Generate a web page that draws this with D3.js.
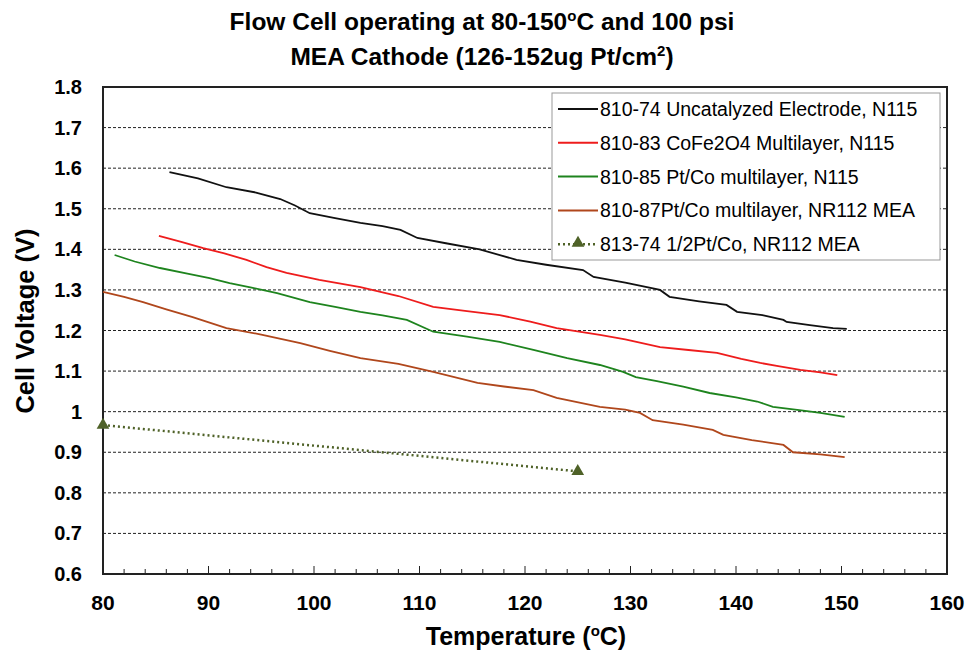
<!DOCTYPE html>
<html>
<head>
<meta charset="utf-8">
<script src="https://cdn.jsdelivr.net/npm/d3@7"></script>
<style>
  body { margin: 0; background: #fff; }
  text { font-family: "Liberation Sans", Arial, sans-serif; }
</style>
</head>
<body>
<div id="chart"></div>
<script>
// series data
var t74 = [86.3, 89, 91.7, 94.5, 96.8, 98.2, 99.6, 102, 104.4, 106.5, 108.2, 109.8, 112.5, 115.7, 119.2, 122, 125.5, 126.5, 129.5, 132.8, 133.7, 136.5, 139.1, 140.1, 142.5, 144.5, 144.8, 147, 149.2, 150.5];
var v74 = [1.59, 1.575, 1.553, 1.54, 1.524, 1.508, 1.489, 1.477, 1.465, 1.457, 1.448, 1.428, 1.415, 1.40, 1.374, 1.362, 1.349, 1.332, 1.318, 1.30, 1.283, 1.272, 1.263, 1.246, 1.238, 1.226, 1.221, 1.213, 1.206, 1.204];

var t83 = [85.3, 87.5, 89.5, 91.5, 93.6, 95.5, 97.4, 100.5, 104.4, 108, 111.3, 114.5, 117.6, 120.5, 123, 127.1, 129.5, 132.8, 135.5, 138.2, 140.5, 142.3, 144, 146.1, 148, 149.6];
var v83 = [1.433, 1.418, 1.403, 1.39, 1.374, 1.356, 1.342, 1.325, 1.307, 1.285, 1.258, 1.248, 1.238, 1.222, 1.206, 1.189, 1.178, 1.159, 1.152, 1.145, 1.13, 1.12, 1.112, 1.103, 1.097, 1.09];

var t85 = [81.1, 83, 85.4, 88, 90.1, 92, 94.2, 96.5, 99.6, 102, 104.4, 106.5, 108.8, 111.3, 114.5, 117.6, 120.8, 124, 127.1, 129.3, 130.5, 132.5, 135, 137.5, 140, 142, 143.5, 146, 148, 150.3];
var v85 = [1.386, 1.37, 1.354, 1.34, 1.329, 1.317, 1.305, 1.292, 1.27, 1.258, 1.246, 1.237, 1.226, 1.197, 1.185, 1.172, 1.152, 1.132, 1.115, 1.098, 1.085, 1.075, 1.062, 1.046, 1.035, 1.025, 1.012, 1.004, 0.997, 0.987];

var t87 = [80, 82, 83.8, 86, 88.5, 91.7, 95, 98.7, 101.5, 104.4, 108, 111.3, 115.5, 118, 120.8, 123, 127.1, 129.5, 130.9, 132.1, 135, 137.8, 138.8, 141.5, 144.5, 145.4, 148, 150.3];
var v87 = [1.295, 1.283, 1.27, 1.252, 1.233, 1.206, 1.19, 1.169, 1.15, 1.132, 1.118, 1.098, 1.071, 1.062, 1.053, 1.034, 1.012, 1.005, 0.997, 0.979, 0.968, 0.955, 0.943, 0.93, 0.918, 0.90, 0.895, 0.888];

var t8174 = [80, 125];
var v8174 = [0.967, 0.853];

var seriesNames = [
  "810-74 Uncatalyzed Electrode, N115",
  "810-83 CoFe2O4 Multilayer, N115",
  "810-85 Pt/Co multilayer, N115",
  "810-87Pt/Co multilayer, NR112 MEA",
  "813-74 1/2Pt/Co, NR112 MEA"
];
var seriesColors = ["#111111", "#ee1c1c", "#1e841e", "#b0471c", "#4f6228"];
var xTicks = [80, 90, 100, 110, 120, 130, 140, 150, 160];
var yTicks = [0.6, 0.7, 0.8, 0.9, 1, 1.1, 1.2, 1.3, 1.4, 1.5, 1.6, 1.7, 1.8];

var width = 967, height = 654;
var plot = {left: 103, right: 947, top: 87, bottom: 574};

var svg = d3.select("#chart").append("svg")
    .attr("width", width)
    .attr("height", height);

var x = d3.scaleLinear().domain([80, 160]).range([plot.left, plot.right]);
var y = d3.scaleLinear().domain([0.6, 1.8]).range([plot.bottom, plot.top]);

// gridlines
svg.append("g").selectAll("line")
    .data(yTicks.slice(1, -1)).enter()
    .append("line")
    .attr("x1", plot.left).attr("x2", plot.right)
    .attr("y1", function(d) { return y(d); })
    .attr("y2", function(d) { return y(d); })
    .attr("stroke", "#222")
    .attr("stroke-width", 1)
    .attr("stroke-dasharray", "3,2");

// minor / major ticks along the bottom, pointing in
var minor = d3.range(82, 160, 2).filter(function(d) { return d % 10 != 0; });
svg.append("g").selectAll("line")
    .data(minor).enter()
    .append("line")
    .attr("x1", function(d) { return x(d); })
    .attr("x2", function(d) { return x(d); })
    .attr("y1", plot.bottom).attr("y2", plot.bottom - 5)
    .attr("stroke", "#222");
svg.append("g").selectAll("line")
    .data(xTicks).enter()
    .append("line")
    .attr("x1", function(d) { return x(d); })
    .attr("x2", function(d) { return x(d); })
    .attr("y1", plot.bottom).attr("y2", plot.bottom - 8)
    .attr("stroke", "#222");

// frame
svg.append("rect")
    .attr("x", plot.left).attr("y", plot.top)
    .attr("width", plot.right - plot.left)
    .attr("height", plot.bottom - plot.top)
    .attr("fill", "none")
    .attr("stroke", "#222")
    .attr("stroke-width", 2);

// tick labels
svg.append("g").selectAll("text")
    .data(yTicks).enter()
    .append("text")
    .attr("x", plot.left - 21)
    .attr("y", function(d) { return y(d) + 7; })
    .attr("text-anchor", "end")
    .style("font-size", "20px")
    .style("font-weight", "bold")
    .text(function(d) { return d == 1 ? "1" : d3.format(".1f")(d); });

svg.append("g").selectAll("text")
    .data(xTicks).enter()
    .append("text")
    .attr("x", function(d) { return x(d); })
    .attr("y", 610)
    .attr("text-anchor", "middle")
    .style("font-size", "21px")
    .style("font-weight", "bold")
    .text(function(d) { return d; });

// lines
var line = d3.line()
    .x(function(d) { return x(d[0]); })
    .y(function(d) { return y(d[1]); });

var series = [
  d3.zip(t74, v74),
  d3.zip(t83, v83),
  d3.zip(t85, v85),
  d3.zip(t87, v87),
  d3.zip(t8174, v8174)
];

series.forEach(function(s, i) {
    svg.append("path")
        .datum(s)
        .attr("d", line)
        .attr("fill", "none")
        .attr("stroke", seriesColors[i])
        .attr("stroke-width", i == 4 ? 2.5 : 1.8)
        .attr("stroke-dasharray", i == 4 ? "2,3" : null);
});

var tri = d3.symbol().type(d3.symbolTriangle).size(70);
svg.append("g").selectAll("path")
    .data(series[4]).enter()
    .append("path")
    .attr("d", tri)
    .attr("transform", function(d) { return "translate(" + x(d[0]) + "," + y(d[1]) + ")"; })
    .attr("fill", seriesColors[4]);

// legend
var lg = svg.append("g");
lg.append("rect")
    .attr("x", 552).attr("y", 93)
    .attr("width", 388).attr("height", 167)
    .attr("fill", "#fff")
    .attr("stroke", "#999")
    .attr("stroke-width", 1);

var item = lg.selectAll("g.item")
    .data(seriesNames).enter()
    .append("g")
    .attr("class", "item")
    .attr("transform", function(d, i) { return "translate(558," + (109 + i * 33.8) + ")"; });

item.append("line")
    .attr("x1", 0).attr("x2", 40)
    .attr("y1", 0).attr("y2", 0)
    .attr("stroke", function(d, i) { return seriesColors[i]; })
    .attr("stroke-width", function(d, i) { return i == 4 ? 2.5 : 2; })
    .attr("stroke-dasharray", function(d, i) { return i == 4 ? "2,3" : null; });

item.filter(function(d, i) { return i == 4; })
    .append("path")
    .attr("d", tri)
    .attr("transform", "translate(20,-1)")
    .attr("fill", seriesColors[4]);

item.append("text")
    .attr("x", 42)
    .attr("y", 7)
    .style("font-size", "19.5px")
    .text(function(d) { return d; });

// titles
var title = svg.append("text")
    .attr("x", 482).attr("y", 30)
    .attr("text-anchor", "middle")
    .style("font-size", "24.5px")
    .style("font-weight", "bold");
title.append("tspan").text("Flow Cell operating at 80-150");
title.append("tspan").attr("font-size", "15px").attr("dy", -9).text("o");
title.append("tspan").attr("dy", 9).text("C and 100 psi");

var title2 = svg.append("text")
    .attr("x", 482).attr("y", 65)
    .attr("text-anchor", "middle")
    .style("font-size", "24.5px")
    .style("font-weight", "bold");
title2.append("tspan").text("MEA Cathode (126-152ug Pt/cm");
title2.append("tspan").attr("font-size", "15px").attr("dy", -9).text("2");
title2.append("tspan").attr("dy", 9).text(")");

var xt = svg.append("text")
    .attr("x", 526).attr("y", 645)
    .attr("text-anchor", "middle")
    .style("font-size", "25px")
    .style("font-weight", "bold");
xt.append("tspan").text("Temperature (");
xt.append("tspan").attr("font-size", "15px").attr("dy", -9).text("o");
xt.append("tspan").attr("dy", 9).text("C)");

svg.append("text")
    .attr("transform", "translate(34,321) rotate(-90)")
    .attr("text-anchor", "middle")
    .style("font-size", "25.5px")
    .style("font-weight", "bold")
    .text("Cell Voltage (V)");
</script>
</body>
</html>
